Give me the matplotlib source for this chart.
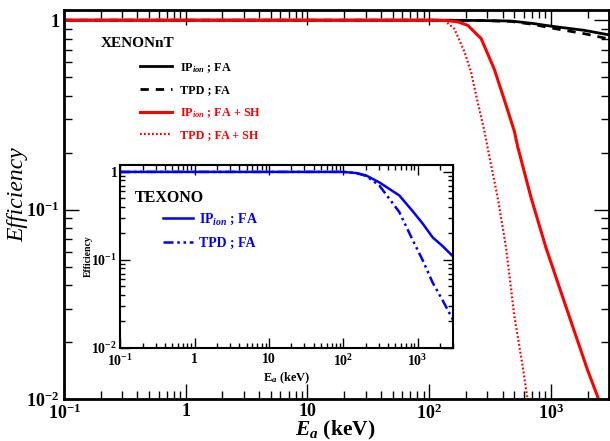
import numpy as np
import matplotlib.pyplot as plt
from matplotlib.ticker import FixedLocator, FixedFormatter, LogLocator, NullFormatter

plt.rcParams['font.family'] = ['Liberation Serif', 'DejaVu Serif']
plt.rcParams['font.weight'] = 'bold'
plt.rcParams['axes.labelweight'] = 'bold'
plt.rcParams['mathtext.fontset'] = 'custom'
plt.rcParams['mathtext.rm'] = 'Liberation Serif:bold'
plt.rcParams['mathtext.bf'] = 'Liberation Serif:bold'
plt.rcParams['mathtext.it'] = 'Liberation Serif:italic'

# XENONnT curves (main panel)
e_fa = [0.1, 100, 200, 300, 470, 720, 1000, 1860, 2900, 3000]
ip_fa = [1.0, 1.0, 0.998, 0.995, 0.99, 0.96, 0.93, 0.885, 0.84, 0.838]
tpd_fa = [1.0, 1.0, 0.998, 0.994, 0.985, 0.95, 0.91, 0.85, 0.80, 0.798]

e_ip_sh = [0.1, 100, 140, 172, 207, 267, 343, 414, 500, 533, 686, 910, 1370, 1995, 2490]
ip_sh = [1.0, 1.0, 0.995, 0.98, 0.94, 0.80, 0.55, 0.38, 0.26, 0.215, 0.116, 0.063,
         0.029, 0.0143, 0.0098]

e_tpd_sh = [0.1, 100, 134, 161, 195, 221, 251, 284, 305, 365, 428, 500, 586, 645]
tpd_sh = [1.0, 1.0, 0.995, 0.90, 0.68, 0.53, 0.365, 0.26, 0.205, 0.116, 0.063,
          0.0275, 0.0149, 0.0098]

# TEXONO curves (inset)
e_tex = [0.1, 100, 150, 203, 305, 565, 850, 1160, 1590, 2150, 2970]
tex_ip = [1.0, 1.0, 0.97, 0.91, 0.76, 0.54, 0.36, 0.26, 0.18, 0.144, 0.11]
tex_tpd = [1.0, 1.0, 0.97, 0.90, 0.70, 0.35, 0.17, 0.10, 0.055, 0.035, 0.021]

xticks = [0.1, 1, 10, 100, 1000]
xlabels = [r'$10^{-1}$', '1', '10', r'$10^{2}$', r'$10^{3}$']
yticks = [0.01, 0.1, 1]
ylabels = [r'$10^{-2}$', r'$10^{-1}$', '1']


def style_axis(ax, fs, major, minor, lw):
    ax.set_xscale('log')
    ax.set_yscale('log')
    ax.xaxis.set_major_locator(FixedLocator(xticks))
    ax.xaxis.set_major_formatter(FixedFormatter(xlabels))
    ax.yaxis.set_major_locator(FixedLocator(yticks))
    ax.yaxis.set_major_formatter(FixedFormatter(ylabels))
    ax.xaxis.set_minor_locator(LogLocator(subs=np.arange(2, 10), numticks=20))
    ax.yaxis.set_minor_locator(LogLocator(subs=np.arange(2, 10), numticks=20))
    ax.xaxis.set_minor_formatter(NullFormatter())
    ax.yaxis.set_minor_formatter(NullFormatter())
    ax.tick_params(which='both', direction='in', top=True, right=True,
                   labelsize=fs, width=1.0)
    ax.tick_params(which='major', length=major)
    ax.tick_params(which='minor', length=minor)
    for s in ax.spines.values():
        s.set_linewidth(lw)


fig = plt.figure(figsize=(6.1, 4.41), dpi=100)
ax = fig.add_axes([0.105, 0.095, 0.8934, 0.882])
l1, = ax.plot(e_fa, ip_fa, color='black', lw=2.0, label=r'IP$_{\mathit{ion}}$ ; FA')
l2, = ax.plot(e_fa, tpd_fa, color='black', lw=2.0, ls=(0, (3, 2.5)), label='TPD ; FA')
l3, = ax.plot(e_ip_sh, ip_sh, color='red', lw=2.2, label=r'IP$_{\mathit{ion}}$ ; FA + SH')
l4, = ax.plot(e_tpd_sh, tpd_sh, color='red', lw=1.6, ls=(0, (0.8, 1.0)),
              label='TPD ; FA + SH')
ax.set_xlim(0.1, 3000)
ax.set_ylim(0.01, 1.13)
style_axis(ax, 13, 11, 6, 2.0)
ax.tick_params(axis='x', pad=3)
ax.set_ylabel('Efficiency', fontsize=17, style='italic', fontweight='normal')
ax.yaxis.set_label_coords(-0.066, 0.525)
ax.set_xlabel(r'$E_a$ (keV)', fontsize=15.5, fontweight='bold')
ax.xaxis.set_label_coords(0.498, -0.05)
ax.text(0.067, 0.915, 'XENONnT', transform=ax.transAxes, fontsize=11,
        va='center', ha='left')
ax.legend(handles=[l1, l2, l3, l4], loc='upper left',
          bbox_to_anchor=(0.14, 0.87), frameon=False, fontsize=8.7,
          handlelength=2.6, handletextpad=0.7, labelspacing=0.8,
          borderpad=0, borderaxespad=0, labelcolor='linecolor')

# inset
ins = fig.add_axes([0.197, 0.211, 0.546, 0.415])
b1, = ins.plot(e_tex, tex_ip, color='blue', lw=1.8, label=r'IP$_{\mathit{ion}}$ ; FA')
b2, = ins.plot(e_tex, tex_tpd, color='blue', lw=1.8, ls=(0, (4, 1.5, 1, 1.5, 1, 1.5)),
               label='TPD ; FA')
ins.set_xlim(0.1, 3000)
ins.set_ylim(0.01, 1.2)
style_axis(ins, 10, 7, 3.5, 1.5)
ins.tick_params(axis='y', pad=2)
ins.set_ylabel('Efficiency', fontsize=7, fontweight='bold')
ins.yaxis.set_label_coords(-0.082, 0.5)
ins.set_xlabel(r'E$_{\mathit{a}}$ (keV)', fontsize=9, fontweight='bold', labelpad=1)
ins.text(0.045, 0.82, 'TEXONO', transform=ins.transAxes, fontsize=11.5,
         va='center', ha='left')
ins.legend(handles=[b1, b2], loc='upper left', bbox_to_anchor=(0.128, 0.745),
           frameon=False, fontsize=10, handlelength=2.2, handletextpad=0.4,
           labelspacing=0.7, borderpad=0, borderaxespad=0, labelcolor='linecolor')

fig.savefig('out.png', dpi=100)
